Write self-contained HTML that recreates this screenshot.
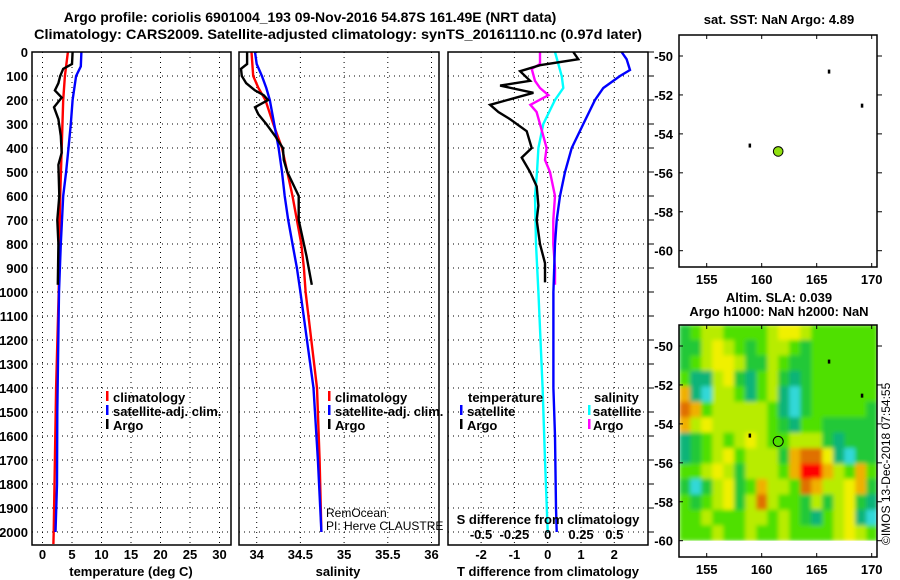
<!DOCTYPE html>
<html><head><meta charset="utf-8">
<style>
html,body{margin:0;padding:0;background:#fff;}
svg{display:block;font-family:"Liberation Sans",sans-serif;}
.b{font-weight:bold;font-size:13px;fill:#000;}
.t{font-weight:bold;font-size:14px;fill:#000;}
.n{font-size:12px;fill:#000;}
.g{stroke:#000;stroke-width:1;stroke-dasharray:1,4;}
.fr{fill:none;stroke:#000;stroke-width:1.5;}
</style></head>
<body>
<svg id="s" width="900" height="580" viewBox="0 0 900 580" xmlns="http://www.w3.org/2000/svg">
<defs>
<filter id="blur" filterUnits="userSpaceOnUse" x="679" y="325" width="198" height="216">
<feGaussianBlur stdDeviation="2.2" edgeMode="duplicate"/>
</filter>
<clipPath id="hc"><rect x="679" y="325" width="198" height="216"/></clipPath>
</defs>
<text class="t" x="310" y="22" text-anchor="middle">Argo profile: coriolis 6901004_193 09-Nov-2016 54.87S 161.49E (NRT data)</text>
<text class="t" x="338" y="39" text-anchor="middle" textLength="608" lengthAdjust="spacingAndGlyphs">Climatology: CARS2009. Satellite-adjusted climatology: synTS_20161110.nc (0.97d later)</text>
<g id="grids"></g>
<g clip-path="url(#hc)"><g id="heat" filter="url(#blur)"></g></g>
<g id="lines"></g>
<g id="axes"></g>

<text class="b" x="131" y="576" text-anchor="middle">temperature (deg C)</text>
<text class="b" x="338" y="576" text-anchor="middle">salinity</text>
<text class="b" x="548" y="576" text-anchor="middle">T difference from climatology</text>
<text class="b" x="548" y="524" text-anchor="middle">S difference from climatology</text>

<g>
<rect x="106" y="391" width="2.5" height="10" fill="#f00"/>
<text class="b" x="113" y="402">climatology</text>
<rect x="106" y="405" width="2.5" height="10" fill="#00f"/>
<text class="b" x="113" y="416">satellite-adj. clim.</text>
<rect x="106" y="419" width="2.5" height="10" fill="#000"/>
<text class="b" x="113" y="430">Argo</text>
</g>
<g>
<rect x="328" y="391" width="2.5" height="10" fill="#f00"/>
<text class="b" x="335" y="402">climatology</text>
<rect x="328" y="405" width="2.5" height="10" fill="#00f"/>
<text class="b" x="335" y="416">satellite-adj. clim.</text>
<rect x="328" y="419" width="2.5" height="10" fill="#000"/>
<text class="b" x="335" y="430">Argo</text>
</g>
<text class="n" x="326" y="517">RemOcean</text>
<text class="n" x="326" y="530">PI: Herve CLAUSTRE</text>
<g>
<text class="b" x="468" y="402">temperature</text>
<rect x="460" y="405" width="2.5" height="10" fill="#00f"/>
<text class="b" x="467" y="416">satellite</text>
<rect x="460" y="419" width="2.5" height="10" fill="#000"/>
<text class="b" x="467" y="430">Argo</text>
<text class="b" x="594" y="402">salinity</text>
<rect x="588" y="405" width="2.5" height="10" fill="#0ff"/>
<text class="b" x="593" y="416">satellite</text>
<rect x="588" y="419" width="2.5" height="10" fill="#f0f"/>
<text class="b" x="593" y="430">Argo</text>
</g>

<text class="b" x="779" y="24" text-anchor="middle">sat. SST: NaN Argo: 4.89</text>
<text class="b" x="779" y="302" text-anchor="middle">Altim. SLA: 0.039</text>
<text class="b" x="779" y="316" text-anchor="middle">Argo h1000: NaN h2000: NaN</text>
<text x="890" y="545" font-size="12" transform="rotate(-90 890 545)">©IMOS 13-Dec-2018 07:54:55</text>
</svg>
<script>
// ---- data ----
var depthTicks=[0,100,200,300,400,500,600,700,800,900,1000,1100,1200,1300,1400,1500,1600,1700,1800,1900,2000];
var tempTicks=[0,5,10,15,20,25,30];
var salTicks=[34,34.5,35,35.5,36];
var salTickLabels=["34","34.5","35","35.5","36"];
var tdTicks=[-2,-1,0,1,2];
var sdTicks=[-0.5,-0.25,0,0.25,0.5];
var sdTickLabels=["-0.5","-0.25","0","0.25","0.5"];
var lonTicks=[155,160,165,170];
var latTicks=[-50,-52,-54,-56,-58,-60];

var tClimDepth=[0,100,200,400,600,800,1000,1400,1700,2000,2050];
var tClimVal=[4.3,3.8,3.5,3.25,3.0,2.85,2.75,2.3,2.1,1.9,1.85];
var tSatDepth=[0,60,100,200,300,400,500,600,800,1000,1500,1800,2000];
var tSatVal=[6.6,6.5,5.7,5.1,4.8,4.4,4.0,3.5,3.1,2.8,2.5,2.45,2.2];
var tArgoDepth=[0,50,70,100,130,160,190,230,280,350,420,470,600,700,800,970];
var tArgoVal=[5.1,5.0,3.5,3.0,2.7,2.1,3.25,1.95,2.7,3.1,3.25,2.7,2.85,2.5,2.7,2.6];

var sClimDepth=[0,100,150,200,300,400,500,600,700,800,900,1000,1400,1700,2000];
var sClimVal=[33.94,33.96,34.02,34.1,34.19,34.29,34.35,34.41,34.46,34.51,34.54,34.56,34.69,34.72,34.74];
var sSatDepth=[0,50,100,150,200,300,400,500,600,700,800,900,1000,1400,1700,2000];
var sSatVal=[33.98,34.0,34.06,34.11,34.15,34.2,34.25,34.29,34.32,34.36,34.41,34.46,34.5,34.65,34.7,34.74];
var sArgoDepth=[0,50,70,100,130,160,180,200,230,260,300,350,400,450,500,600,700,750,850,970];
var sArgoVal=[33.89,33.89,33.82,33.83,33.88,33.98,34.08,34.13,33.98,34.02,34.11,34.21,34.3,34.31,34.35,34.48,34.48,34.51,34.57,34.63];

var dtArgoDepth=[0,30,55,80,120,140,170,220,250,280,330,400,440,500,560,640,700,800,880,960];
var dtArgoVal=[0.77,0.92,-0.23,-0.83,-0.53,-1.43,-0.43,-1.73,-1.48,-1.13,-0.63,-0.48,-0.78,-0.53,-0.33,-0.28,-0.33,-0.23,-0.08,-0.08];
var dtSatDepth=[0,30,75,100,150,200,300,400,500,600,700,800,1000,1400,1600,1900,2000];
var dtSatVal=[2.22,2.37,2.47,2.17,1.67,1.42,1.07,0.72,0.52,0.37,0.27,0.22,0.17,0.17,0.22,0.25,0.27];
var dsSatDepth=[0,100,150,200,300,400,500,600,800,1000,1400,1700,2000];
var dsSatVal=[0.055,0.105,0.117,0.055,-0.033,-0.07,-0.08,-0.095,-0.088,-0.07,-0.038,-0.02,0];
var dsArgoDepth=[0,50,70,120,150,180,220,250,300,400,450,500,600,700,800,900,970];
var dsArgoVal=[-0.058,-0.058,-0.12,-0.095,-0.058,0.005,-0.13,-0.083,-0.058,-0.008,-0.02,0.017,0.055,0.042,0.042,0.055,0.055];

var floatLon=[166.1,169.1,158.9];
var floatLat=[-50.8,-52.55,-54.6];
var profLon=[161.5];
var profLat=[-54.9];

// SLA heat levels (0=cyan low ... 8=red high), 14 rows x 18 cols, from north
var slaLevels=[
[2,3,4,4,3,3,3,3,4,5,5,4,3,3,3,3,3,3],
[2,2,4,5,4,3,2,3,4,4,3,2,3,3,3,3,3,3],
[2,3,4,5,5,4,2,2,4,3,2,2,3,3,3,3,3,3],
[3,1,1,4,5,2,1,3,4,2,1,2,3,3,3,3,3,3],
[6,1,0,4,4,3,1,3,4,1,0,2,3,3,3,3,3,3],
[7,6,3,4,4,4,4,4,3,1,0,2,3,3,3,3,3,2],
[6,4,5,4,4,4,4,4,3,2,1,3,3,2,2,2,2,2],
[1,2,3,4,3,4,5,4,3,3,4,4,4,2,1,2,2,2],
[1,2,3,4,5,3,4,4,4,2,6,7,7,5,1,0,2,2],
[3,3,4,5,4,2,4,4,4,3,6,8,8,6,4,3,6,3],
[2,0,2,4,5,2,3,6,4,4,3,7,6,4,4,5,6,2],
[3,2,3,4,5,2,4,7,4,3,3,2,4,2,4,5,2,1],
[3,3,4,3,3,3,4,4,3,4,3,2,1,3,4,5,1,0],
[3,3,3,4,3,3,4,3,3,4,3,3,3,3,4,5,4,3]];
var slaColors=["#30d8d8","#10b478","#20c838","#50e000","#b8ec00","#f0f000","#f0b000","#e07000","#ff0000"];

// ---- axes functions ----
var NS="http://www.w3.org/2000/svg";
function dy(z){return 52+z*0.24;}
function tx(t){return 42.5+t*5.9;}
function sx(s){return 256.7+(s-34)*87.4;}
function dx(d){return 547.7+d*33.3;}
function dsx(d){return 547.7+d*133.3;}
function lonX(l){return 706.7+(l-155)*11.0;}
function latY(l,top){return 346+(-50-l)*19.47-(top?290:0);}
var panels=[[32,231],[239,439],[448,648]];
var PT=52,PB=545;
function E(tag,parent){var e=document.createElementNS(NS,tag);document.getElementById(parent).appendChild(e);return e;}

// grids
panels.forEach(function(p){
  depthTicks.forEach(function(z){
    if(z===0)return;
    var l=E('line','grids');
    
    
    l.setAttribute('x1',p[0]);l.setAttribute('x2',p[1]);l.setAttribute('y1',dy(z));l.setAttribute('y2',dy(z));l.setAttribute('class','g');
  });
});
function vgrid(ticks,f){ticks.forEach(function(v){
  var l=E('line','grids');
  
  
  l.setAttribute('x1',f(v));l.setAttribute('x2',f(v));l.setAttribute('y1',PT);l.setAttribute('y2',PB);l.setAttribute('class','g');
});}
vgrid(tempTicks,tx);vgrid(salTicks,sx);vgrid(tdTicks,dx);

// heatmap
var nR=slaLevels.length,nC=slaLevels[0].length;
var latTop=-48.9,latBot=-60.0;
for(var r=0;r<nR;r++){for(var c=0;c<nC;c++){
  var x0=lonX(152.5+c),x1=lonX(153.5+c);
  var la0=latTop+(latBot-latTop)*r/nR,la1=latTop+(latBot-latTop)*(r+1)/nR;
  var y0=latY(la0,false),y1=latY(la1,false);
  var rc=E('rect','heat');
  
  
  rc.setAttribute('x',x0);rc.setAttribute('y',y0);rc.setAttribute('width',x1-x0+0.5);rc.setAttribute('height',y1-y0+0.5);
  rc.setAttribute('fill',slaColors[slaLevels[r][c]]);
}}

// profile lines
function line(depths,vals,f,color,name,w){
  var pts=depths.map(function(z,i){return f(vals[i]).toFixed(1)+','+dy(z).toFixed(1);}).join(' ');
  var pl=E('polyline','lines');
  
  
  pl.setAttribute('points',pts);pl.setAttribute('fill','none');pl.setAttribute('stroke',color);pl.setAttribute('stroke-width',w||2.4);
}
line(tClimDepth,tClimVal,tx,'#f00','temp-climatology-line');
line(tSatDepth,tSatVal,tx,'#00f','temp-satellite-line');
line(tArgoDepth,tArgoVal,tx,'#000','temp-argo-line');
line(sClimDepth,sClimVal,sx,'#f00','sal-climatology-line');
line(sSatDepth,sSatVal,sx,'#00f','sal-satellite-line');
line(sArgoDepth,sArgoVal,sx,'#000','sal-argo-line');
line(dsSatDepth,dsSatVal,dsx,'#0ff','s-diff-satellite-line');
line(dsArgoDepth,dsArgoVal,dsx,'#f0f','s-diff-argo-line');
line(dtArgoDepth,dtArgoVal,dx,'#000','t-diff-argo-line');
line(dtSatDepth,dtSatVal,dx,'#00f','t-diff-satellite-line');

// axes frames and labels
function txt(x,y,s,anchor,name,parent){
  var t=E('text',parent||'axes');
  
  
  t.setAttribute('x',x);t.setAttribute('y',y);t.setAttribute('class','b');t.setAttribute('text-anchor',anchor);t.textContent=s;return t;
}
panels.forEach(function(p){
  var rc=E('rect','axes');
  
  
  rc.setAttribute('x',p[0]);rc.setAttribute('y',PT);rc.setAttribute('width',p[1]-p[0]);rc.setAttribute('height',PB-PT);rc.setAttribute('class','fr');
});
depthTicks.forEach(function(z){txt(28,dy(z)+5,String(z),'end','depth-tick-label');});
tempTicks.forEach(function(v){txt(tx(v),559,String(v),'middle','temp-tick-label');});
salTicks.forEach(function(v,i){txt(sx(v),559,salTickLabels[i],'middle','sal-tick-label');});
tdTicks.forEach(function(v){txt(dx(v),559,String(v),'middle','t-diff-tick-label');});
sdTicks.forEach(function(v,i){txt(dsx(v),539,sdTickLabels[i],'middle','s-diff-tick-label');});
depthTicks.forEach(function(z){
  var l=E('line','axes');
  
  
  l.setAttribute('x1',648);l.setAttribute('x2',654);l.setAttribute('y1',dy(z));l.setAttribute('y2',dy(z));l.setAttribute('stroke','#000');
});

// maps
[true,false].forEach(function(top){
  var X0=679,X1=877,Y0=top?35:325,Y1=top?267:557;
  if(!top){var wr=E('rect','axes');
    
    
    wr.setAttribute('x',X0);wr.setAttribute('y',latY(latBot,false));wr.setAttribute('width',X1-X0);wr.setAttribute('height',Y1-latY(latBot,false));wr.setAttribute('fill','#fff');}
  var fr=E('rect','axes');
  
  
  fr.setAttribute('x',X0);fr.setAttribute('y',Y0);fr.setAttribute('width',X1-X0);fr.setAttribute('height',Y1-Y0);fr.setAttribute('class','fr');
  lonTicks.forEach(function(v){
    txt(lonX(v),Y1+17,String(v),'middle','lon-tick-label');
    [[Y0,Y0+4],[Y1,Y1-4]].forEach(function(k){var l=E('line','axes');
      
      
      l.setAttribute('x1',lonX(v));l.setAttribute('x2',lonX(v));l.setAttribute('y1',k[0]);l.setAttribute('y2',k[1]);l.setAttribute('stroke','#000');});
  });
  latTicks.forEach(function(v){
    var yy=latY(v,top);
    txt(673,yy+5,String(v),'end','lat-tick-label');
    [[X0,X0+4],[X1,X1+5]].forEach(function(k){var l=E('line','axes');
      
      
      l.setAttribute('x1',k[0]);l.setAttribute('x2',k[1]);l.setAttribute('y1',yy);l.setAttribute('y2',yy);l.setAttribute('stroke','#000');});
  });
  floatLon.forEach(function(lo,i){
    var m=E('rect','axes');
    
    
    m.setAttribute('x',lonX(lo)-1);m.setAttribute('y',latY(floatLat[i],top)-2);m.setAttribute('width',2.5);m.setAttribute('height',4);m.setAttribute('fill','#000');
  });
  profLon.forEach(function(lo,i){
    var c=E('circle','axes');
    
    
    c.setAttribute('cx',lonX(lo));c.setAttribute('cy',latY(profLat[i],top));c.setAttribute('r',top?4.8:5);
    c.setAttribute('fill',top?'#90e010':'none');c.setAttribute('stroke','#000');c.setAttribute('stroke-width',1);
  });
});
</script>
</body></html>
